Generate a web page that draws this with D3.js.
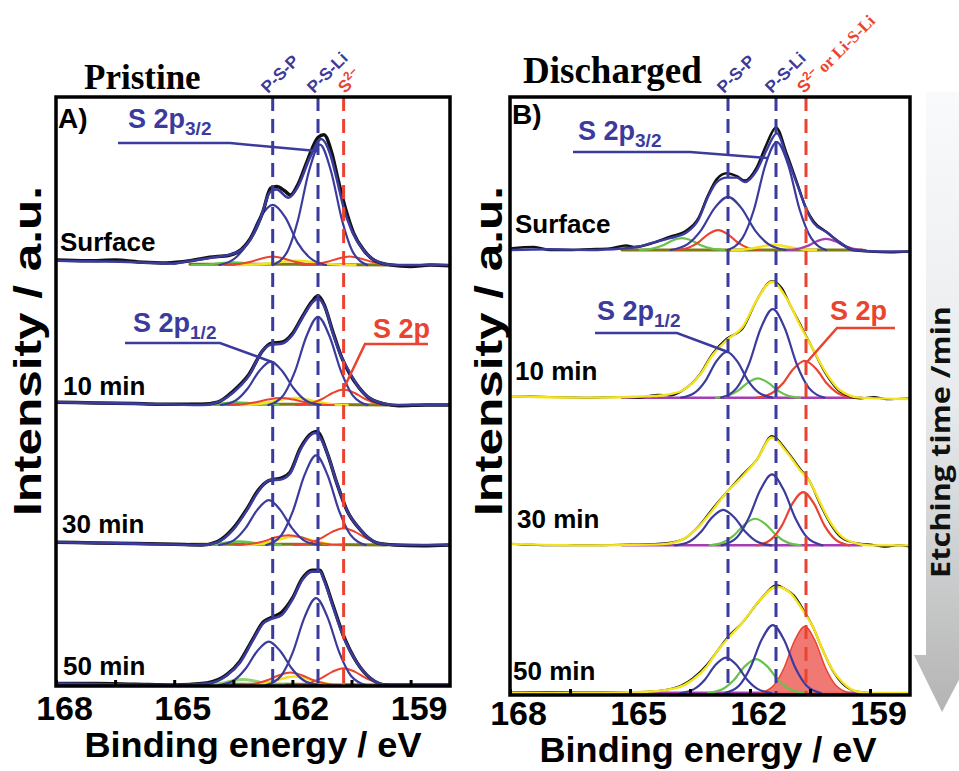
<!DOCTYPE html>
<html>
<head>
<meta charset="utf-8">
<title>S 2p XPS depth profiles</title>
<script src="https://d3js.org/d3.v7.min.js"></script>
<style>
  body { margin: 0; background: #fff; }
  svg text { font-family: "Liberation Sans", Arial, sans-serif; font-weight: bold; }
</style>
</head>
<body>
<div id="chart"></div>
<script>
// ---- axis values / labels
const energyLabels = [168, 165, 162, 159];
const energyMinor = [166.5, 163.5, 160.5];
const depthLabels = ["Surface", "10 min", "30 min", "50 min"];
const refPristine = [162.5, 161.35, 160.7];     // P-S-P, P-S-Li, S2-
const refDischarged = [162.55, 161.35, 160.6];

// ---- Pristine (A), [binding energy, intensity]
const priBackground = [[164.6,0.006],[162,0.006],[159.6,0.0]];

const priSurfData = [[168,0.035],[167.2,0.03],[166.5,0.035],[165.8,0.02],[165.2,0.015],[164.6,0.03],[164.1,0.055],[163.6,0.07],[163.3,0.11],[163.0,0.22],[162.75,0.38],[162.55,0.55],[162.4,0.56],[162.2,0.53],[162.05,0.5],[161.85,0.58],[161.6,0.76],[161.35,0.91],[161.2,0.93],[161.0,0.8],[160.85,0.62],[160.65,0.4],[160.45,0.23],[160.2,0.11],[159.9,0.03],[159.5,0.0],[159.0,-0.01],[158.5,0.0],[158,-0.005]];
const priSurfFit = [[168,0.03],[166,0.02],[165,0.01],[164.8,0.02],[164.1,0.05],[163.4,0.09],[163.07,0.18],[162.8,0.34],[162.57,0.52],[162.4,0.54],[162.1,0.48],[161.86,0.56],[161.55,0.77],[161.27,0.9],[161.05,0.8],[160.87,0.61],[160.7,0.41],[160.5,0.25],[160.23,0.12],[159.95,0.04],[159.45,0.0],[158,0.0]];
const priSurfPSP = [[163.85,0],[163.45,0.05],[163.13,0.16],[162.82,0.34],[162.5,0.43],[162.18,0.34],[161.87,0.16],[161.55,0.05],[161.15,0]];
const priSurfPSLi = [[162.5,0],[162.14,0.09],[161.86,0.32],[161.58,0.67],[161.3,0.86],[161.02,0.67],[160.74,0.32],[160.46,0.09],[160.1,0]];
const priSurfS2 = [[161.75,0],[161.39,0.007],[161.11,0.023],[160.83,0.047],[160.55,0.06],[160.27,0.047],[159.99,0.023],[159.71,0.007],[159.35,0]];
const priSurfRed = [[163.7,0],[163.34,0.007],[163.06,0.023],[162.78,0.047],[162.5,0.06],[162.22,0.047],[161.94,0.023],[161.66,0.007],[161.3,0]];
const priSurfYel = [[163.4,0],[162.95,0.003],[162.6,0.011],[162.25,0.023],[161.9,0.03],[161.55,0.023],[161.2,0.011],[160.85,0.003],[160.4,0]];
const priSurfGrn = [[164.55,0],[164.24,0.002],[163.99,0.008],[163.75,0.016],[163.5,0.02],[163.25,0.016],[163.01,0.008],[162.76,0.002],[162.45,0]];

const pri10Data = [[168,0.02],[167,0.015],[166,0.01],[165,0.005],[164.3,0.005],[163.9,0.02],[163.5,0.1],[163.1,0.22],[162.75,0.39],[162.55,0.44],[162.25,0.45],[162.0,0.51],[161.75,0.63],[161.5,0.74],[161.35,0.78],[161.2,0.72],[160.97,0.52],[160.75,0.34],[160.54,0.22],[160.3,0.12],[160.1,0.06],[159.7,0.01],[159.3,-0.005],[158.6,0.0],[158,0.0]];
const pri10Fit = [[168,0.02],[166,0.01],[164.3,0.0],[163.9,0.02],[163.5,0.09],[163.1,0.21],[162.75,0.39],[162.55,0.43],[162.25,0.44],[162.0,0.5],[161.75,0.62],[161.5,0.73],[161.35,0.76],[161.15,0.68],[160.97,0.51],[160.75,0.34],[160.54,0.23],[160.3,0.12],[160.1,0.06],[159.7,0.01],[159.4,0],[158,0]];
const pri10PSP = [[163.81,0],[163.43,0.034],[163.14,0.116],[162.84,0.243],[162.55,0.31],[162.26,0.243],[161.96,0.116],[161.67,0.034],[161.29,0]];
const pri10PSLi = [[162.61,0],[162.23,0.069],[161.94,0.236],[161.64,0.493],[161.35,0.63],[161.06,0.493],[160.76,0.236],[160.47,0.069],[160.09,0]];
const pri10S2 = [[161.9,0],[161.54,0.012],[161.26,0.041],[160.98,0.086],[160.7,0.11],[160.42,0.086],[160.14,0.041],[159.86,0.012],[159.5,0]];
const pri10Red = [[163.65,0],[163.25,0.006],[162.93,0.019],[162.62,0.039],[162.3,0.05],[161.98,0.039],[161.67,0.019],[161.35,0.006],[160.95,0]];
const pri10Yel = [[163.3,0],[162.9,0.006],[162.58,0.019],[162.27,0.039],[161.95,0.05],[161.63,0.039],[161.32,0.019],[161.0,0.006],[160.6,0]];
const pri10Grn = [[164.45,0],[164.14,0.002],[163.89,0.008],[163.65,0.016],[163.4,0.02],[163.15,0.016],[162.91,0.008],[162.66,0.002],[162.35,0]];

const pri30Data = [[168,0.02],[167,0.015],[166,0.01],[165,0.005],[164.3,0.0],[163.9,0.025],[163.5,0.12],[163.15,0.26],[162.87,0.39],[162.6,0.46],[162.27,0.48],[162.06,0.52],[161.8,0.69],[161.5,0.8],[161.38,0.81],[161.12,0.66],[160.87,0.44],[160.62,0.25],[160.28,0.11],[159.85,0.015],[159.4,0.0],[158.7,-0.005],[158,0.0]];
const pri30Fit = [[168,0.02],[166,0.01],[164.3,0.0],[163.9,0.02],[163.5,0.11],[163.15,0.25],[162.87,0.38],[162.6,0.46],[162.27,0.47],[162.06,0.51],[161.8,0.68],[161.42,0.8],[161.3,0.77],[161.12,0.66],[160.87,0.44],[160.62,0.25],[160.28,0.11],[159.85,0.015],[159.4,0],[158,0]];
const pri30PSP = [[163.86,0],[163.48,0.035],[163.19,0.12],[162.89,0.251],[162.6,0.32],[162.31,0.251],[162.01,0.12],[161.72,0.035],[161.34,0]];
const pri30PSLi = [[162.66,0],[162.28,0.07],[161.99,0.24],[161.69,0.501],[161.4,0.64],[161.11,0.501],[160.81,0.24],[160.52,0.07],[160.14,0]];
const pri30S2 = [[161.96,0],[161.58,0.013],[161.29,0.045],[160.99,0.094],[160.7,0.12],[160.41,0.094],[160.11,0.045],[159.82,0.013],[159.44,0]];
const pri30Red = [[163.45,0],[163.05,0.008],[162.73,0.026],[162.42,0.055],[162.1,0.07],[161.78,0.055],[161.47,0.026],[161.15,0.008],[160.75,0]];
const pri30Yel = [[163.21,0],[162.83,0.007],[162.54,0.023],[162.24,0.047],[161.95,0.06],[161.66,0.047],[161.36,0.023],[161.07,0.007],[160.69,0]];
const pri30Grn = [[164.4,0],[164.09,0.003],[163.84,0.009],[163.6,0.02],[163.35,0.025],[163.1,0.02],[162.86,0.009],[162.61,0.003],[162.3,0]];

const pri50Data = [[168,0.01],[167,0.01],[166,0.005],[165,0.0],[164.17,0.015],[163.66,0.075],[163.33,0.17],[163.0,0.33],[162.74,0.45],[162.55,0.48],[162.27,0.52],[162.0,0.62],[161.75,0.76],[161.5,0.82],[161.3,0.82],[161.2,0.76],[160.97,0.57],[160.7,0.35],[160.36,0.16],[160.03,0.05],[159.6,0.0],[158,0.0]];
const pri50Fit = [[168,0.01],[165,0],[164.17,0.01],[163.66,0.07],[163.33,0.16],[163.0,0.32],[162.74,0.44],[162.55,0.47],[162.27,0.5],[162.0,0.61],[161.75,0.75],[161.5,0.81],[161.3,0.81],[161.2,0.75],[160.97,0.56],[160.7,0.34],[160.36,0.16],[160.03,0.05],[159.6,0],[158,0]];
const pri50PSP = [[163.86,0],[163.48,0.034],[163.19,0.116],[162.89,0.243],[162.6,0.31],[162.31,0.243],[162.01,0.116],[161.72,0.034],[161.34,0]];
const pri50PSLi = [[162.66,0],[162.28,0.068],[161.99,0.233],[161.69,0.485],[161.4,0.62],[161.11,0.485],[160.81,0.233],[160.52,0.068],[160.14,0]];
const pri50S2 = [[161.96,0],[161.58,0.013],[161.29,0.045],[160.99,0.094],[160.7,0.12],[160.41,0.094],[160.11,0.045],[159.82,0.013],[159.44,0]];
const pri50Red = [[163.31,0],[162.93,0.01],[162.64,0.034],[162.34,0.07],[162.05,0.09],[161.76,0.07],[161.46,0.034],[161.17,0.01],[160.79,0]];
const pri50Yel = [[163.21,0],[162.83,0.007],[162.54,0.023],[162.24,0.047],[161.95,0.06],[161.66,0.047],[161.36,0.023],[161.07,0.007],[160.69,0]];
const pri50Grn = [[164.3,0],[163.99,0.004],[163.74,0.015],[163.5,0.031],[163.25,0.04],[163.0,0.031],[162.76,0.015],[162.51,0.004],[162.2,0]];

// ---- Discharged (B)
const disBackground = [[165.2,0.0],[162,0.0],[159.2,0.0]];
const disLowTail = [[168,0.0],[166,0.0],[164.6,0.0]];

const disSurfData = [[168,0.01],[167.4,0.02],[167,0.0],[166.5,0.0],[166,0.005],[165.5,0.01],[165.1,0.03],[164.9,0.02],[164.4,0.05],[164.0,0.09],[163.6,0.13],[163.3,0.21],[163.05,0.37],[162.83,0.48],[162.58,0.52],[162.33,0.5],[162.13,0.47],[161.83,0.56],[161.58,0.72],[161.35,0.83],[161.08,0.65],[160.83,0.46],[160.58,0.27],[160.4,0.19],[160.08,0.12],[159.75,0.05],[159.43,0.0],[159,-0.01],[158.5,-0.015],[158,-0.01]];
const disSurfFit = [[168,0.0],[167,0.005],[166,0.0],[165.2,0.01],[164.83,0.02],[164.43,0.05],[164.0,0.08],[163.58,0.12],[163.3,0.2],[163.05,0.36],[162.83,0.46],[162.58,0.49],[162.33,0.49],[162.13,0.46],[161.83,0.54],[161.58,0.68],[161.33,0.79],[161.08,0.63],[160.83,0.45],[160.58,0.27],[160.4,0.18],[160.08,0.12],[159.75,0.05],[159.43,0.0],[158.8,-0.01],[158,-0.01]];
const disSurfPSP = [[163.99,0],[163.56,0.04],[163.22,0.135],[162.89,0.282],[162.55,0.36],[162.21,0.282],[161.88,0.135],[161.54,0.04],[161.11,0]];
const disSurfPSLi = [[162.56,0],[162.19,0.08],[161.9,0.274],[161.62,0.572],[161.33,0.73],[161.04,0.572],[160.76,0.274],[160.47,0.08],[160.1,0]];
const disSurfRed = [[163.85,0],[163.54,0.015],[163.29,0.051],[163.05,0.106],[162.8,0.135],[162.55,0.106],[162.31,0.051],[162.06,0.015],[161.75,0]];
const disSurfGrn = [[164.75,0],[164.44,0.009],[164.19,0.03],[163.95,0.063],[163.7,0.08],[163.45,0.063],[163.21,0.03],[162.96,0.009],[162.65,0]];
const disSurfYel = [[162.45,0],[162.14,0.004],[161.89,0.013],[161.65,0.027],[161.4,0.035],[161.15,0.027],[160.91,0.013],[160.66,0.004],[160.35,0]];
const disSurfPur = [[161.09,0],[160.79,0.008],[160.56,0.028],[160.33,0.059],[160.1,0.075],[159.87,0.059],[159.64,0.028],[159.41,0.008],[159.11,0]];

const dis10Data = [[168,0.01],[167,0.005],[166,0.0],[165.3,0.005],[164.8,0.0],[164.3,0.02],[164.0,0.015],[163.68,0.05],[163.25,0.16],[162.93,0.3],[162.58,0.4],[162.18,0.47],[161.83,0.66],[161.45,0.79],[161.2,0.74],[161.0,0.63],[160.75,0.5],[160.43,0.33],[160.08,0.15],[159.75,0.04],[159.25,-0.005],[158.9,0.005],[158.6,-0.01],[158,-0.005]];
const dis10Fit = [[168,0.01],[166,0.0],[164.5,0.01],[164.08,0.02],[163.68,0.05],[163.25,0.155],[162.93,0.29],[162.58,0.39],[162.18,0.48],[161.83,0.66],[161.45,0.785],[161.08,0.67],[160.75,0.49],[160.43,0.33],[160.08,0.16],[159.75,0.05],[159.25,0.0],[158,-0.01]];
const dis10PSP = [[163.72,0],[163.38,0.034],[163.11,0.116],[162.85,0.243],[162.58,0.31],[162.31,0.243],[162.05,0.116],[161.78,0.034],[161.44,0]];
const dis10PSLi = [[162.72,0],[162.33,0.066],[162.03,0.225],[161.73,0.47],[161.43,0.6],[161.13,0.47],[160.83,0.225],[160.53,0.066],[160.14,0]];
const dis10Grn = [[162.85,0],[162.54,0.014],[162.29,0.049],[162.05,0.102],[161.8,0.13],[161.55,0.102],[161.31,0.049],[161.06,0.014],[160.75,0]];
const dis10Red = [[161.83,0],[161.47,0.028],[161.19,0.094],[160.91,0.196],[160.63,0.25],[160.35,0.196],[160.07,0.094],[159.79,0.028],[159.43,0]];

const dis30Data = [[168,0.01],[167,0.0],[166,0.0],[165,0.005],[164.3,0.01],[163.68,0.04],[163.25,0.14],[162.93,0.25],[162.58,0.36],[162.25,0.46],[161.83,0.58],[161.45,0.74],[161.08,0.64],[160.75,0.52],[160.5,0.43],[160.25,0.28],[160.0,0.15],[159.75,0.06],[159.43,0.02],[159.0,0.005],[158.6,-0.01],[158.3,0.0],[158,-0.01]];
const dis30Fit = [[168,0.01],[166,0.0],[164.5,0.005],[164.1,0.01],[163.68,0.04],[163.25,0.135],[162.93,0.24],[162.58,0.36],[162.25,0.45],[161.83,0.58],[161.45,0.73],[161.08,0.63],[160.75,0.51],[160.5,0.43],[160.25,0.29],[160.0,0.16],[159.75,0.07],[159.43,0.02],[159.0,0.0],[158,0.0]];
const dis30PSP = [[163.87,0],[163.51,0.026],[163.23,0.09],[162.95,0.188],[162.67,0.24],[162.39,0.188],[162.11,0.09],[161.83,0.026],[161.47,0]];
const dis30PSLi = [[162.71,0],[162.33,0.053],[162.04,0.18],[161.74,0.376],[161.45,0.48],[161.16,0.376],[160.86,0.18],[160.57,0.053],[160.19,0]];
const dis30Grn = [[163.01,0],[162.67,0.02],[162.4,0.068],[162.14,0.141],[161.87,0.18],[161.6,0.141],[161.34,0.068],[161.07,0.02],[160.73,0]];
const dis30Red = [[161.81,0],[161.47,0.04],[161.2,0.135],[160.94,0.282],[160.67,0.36],[160.4,0.282],[160.14,0.135],[159.87,0.04],[159.53,0]];

const dis50Data = [[168,0.0],[167,0.005],[166,0.0],[165,0.005],[164.5,0.01],[163.83,0.04],[163.43,0.1],[163.08,0.19],[162.83,0.28],[162.55,0.38],[162.18,0.48],[161.75,0.63],[161.33,0.73],[161.1,0.7],[160.9,0.66],[160.68,0.57],[160.43,0.45],[160.18,0.29],[159.93,0.15],[159.68,0.06],[159.33,0.01],[159.0,0.0],[158.5,0.0],[158,0.0]];
const dis50Fit = [[168,0.0],[166,0.0],[165,0.005],[164.5,0.01],[163.83,0.035],[163.43,0.09],[163.08,0.18],[162.83,0.28],[162.55,0.37],[162.18,0.48],[161.75,0.63],[161.33,0.72],[161.0,0.68],[160.68,0.56],[160.43,0.45],[160.18,0.29],[159.93,0.155],[159.68,0.07],[159.33,0.01],[159.0,0.0],[158,0.0]];
const dis50PSP = [[163.74,0],[163.4,0.026],[163.13,0.09],[162.87,0.188],[162.6,0.24],[162.33,0.188],[162.07,0.09],[161.8,0.026],[161.46,0]];
const dis50PSLi = [[162.63,0],[162.27,0.051],[161.99,0.172],[161.71,0.36],[161.43,0.46],[161.15,0.36],[160.87,0.172],[160.59,0.051],[160.23,0]];
const dis50Grn = [[163.05,0],[162.69,0.025],[162.41,0.086],[162.13,0.18],[161.85,0.23],[161.57,0.18],[161.29,0.086],[161.01,0.025],[160.65,0]];
const dis50Red = [[161.74,0],[161.41,0.05],[161.15,0.169],[160.89,0.352],[160.63,0.45],[160.37,0.352],[160.11,0.169],[159.85,0.05],[159.52,0]];

// ---- drawing
const BLUE = "#3b3b9d", RED = "#ea4330", YEL = "#f4e31c", GRN = "#68c24a",
      OLV = "#7f7a14", PUR = "#a53db3", BLK = "#111";
const SERIF = "'Liberation Serif', 'Times New Roman', serif";

const svg = d3.select("#chart").append("svg").attr("width", 959).attr("height", 771);
const defs = svg.append("defs");

// gray etching-time arrow on the right
const grad = defs.append("linearGradient").attr("id", "arrowGrad")
  .attr("x1", 0).attr("y1", 0).attr("x2", 0).attr("y2", 1);
grad.append("stop").attr("offset", "0%").attr("stop-color", "#f8fafc");
grad.append("stop").attr("offset", "50%").attr("stop-color", "#e8eaec");
grad.append("stop").attr("offset", "100%").attr("stop-color", "#b4b4b4");
svg.append("path")
  .attr("d", "M926,92 L962,92 L962,655 L972,655 L942,712 L914,655 L926,655 Z")
  .attr("fill", "url(#arrowGrad)");
svg.append("text")
  .attr("transform", "translate(950,442) rotate(-90)")
  .attr("text-anchor", "middle")
  .attr("textLength", 272).attr("lengthAdjust", "spacingAndGlyphs")
  .style("font-family", "'Open Sans', sans-serif")
  .style("font-size", "27px")
  .attr("fill", "#111")
  .text("Etching time /min");

function cv(pts, color, w, fill) { return { pts: pts, color: color, w: w, fill: fill }; }

const panels = [
  {
    key: "A", title: "Pristine", letter: "A)",
    x: d3.scaleLinear().domain([168, 158]).range([56, 450]),
    y: d3.scaleLinear().domain([0, 4]).range([685, 125]),
    frame: [56, 97, 450, 686], tickPad: 10, refs: refPristine,
    spectra: [
      { off: 3, curves: [cv(priBackground, OLV, 3), cv(priSurfGrn, GRN, 2), cv(priSurfYel, YEL, 2.5), cv(priSurfRed, RED, 2), cv(priSurfS2, RED, 2), cv(priSurfPSP, BLUE, 2.2), cv(priSurfPSLi, BLUE, 2.2), cv(priSurfData, BLK, 3.5), cv(priSurfFit, BLUE, 2.6)] },
      { off: 2, curves: [cv(priBackground, OLV, 3), cv(pri10Grn, GRN, 2), cv(pri10Yel, YEL, 2.5), cv(pri10Red, RED, 2), cv(pri10S2, RED, 2), cv(pri10PSP, BLUE, 2.2), cv(pri10PSLi, BLUE, 2.2), cv(pri10Data, BLK, 3.5), cv(pri10Fit, BLUE, 2.6)] },
      { off: 1, curves: [cv(priBackground, OLV, 3), cv(pri30Grn, GRN, 2.5), cv(pri30Yel, YEL, 2.5), cv(pri30Red, RED, 2), cv(pri30S2, RED, 2), cv(pri30PSP, BLUE, 2.2), cv(pri30PSLi, BLUE, 2.2), cv(pri30Data, BLK, 3.5), cv(pri30Fit, BLUE, 2.6)] },
      { off: 0, curves: [cv(priBackground, OLV, 3), cv(pri50Grn, "#8fd47a", 3), cv(pri50Yel, YEL, 2.5), cv(pri50Red, RED, 2), cv(pri50S2, RED, 2), cv(pri50PSP, BLUE, 2.2), cv(pri50PSLi, BLUE, 2.2), cv(pri50Data, BLK, 3.5), cv(pri50Fit, BLUE, 2.6)] }
    ],
    labels: [[60, 251], [63, 395], [62, 533], [63, 675]],
    titlePos: [84, 89], titleSize: 35, letterPos: [58, 128],
    axisTitle: [253, 757], ylab: 41
  },
  {
    key: "B", title: "Discharged", letter: "B)",
    x: d3.scaleLinear().domain([168, 158]).range([510, 910]),
    y: d3.scaleLinear().domain([0, 3]).range([693, 250]),
    frame: [510, 97, 910, 695], tickPad: 6, refs: refDischarged,
    spectra: [
      { off: 3, curves: [cv(disBackground, OLV, 3), cv(disSurfGrn, GRN, 2.2), cv(disSurfRed, RED, 2.2), cv(disSurfYel, YEL, 2.5), cv(disSurfPur, PUR, 2.2), cv(disSurfPSP, BLUE, 2.2), cv(disSurfPSLi, BLUE, 2.2), cv(disSurfData, BLK, 2.5), cv(disSurfFit, BLUE, 2.4)] },
      { off: 2, curves: [cv(disBackground, PUR, 2.5), cv(dis10Grn, GRN, 2.2), cv(dis10Red, RED, 2.2), cv(dis10PSP, BLUE, 2.2), cv(dis10PSLi, BLUE, 2.2), cv(dis10Data, BLK, 2), cv(dis10Fit, YEL, 2.4)] },
      { off: 1, curves: [cv(disBackground, PUR, 2.5), cv(dis30Grn, GRN, 2.2), cv(dis30Red, RED, 2.2), cv(dis30PSP, BLUE, 2.2), cv(dis30PSLi, BLUE, 2.2), cv(dis30Data, BLK, 2), cv(dis30Fit, YEL, 2.4)] },
      { off: 0, curves: [cv(disLowTail, "#b02020", 3.5), cv(disBackground, PUR, 3), cv(dis50Red, RED, 1.5, "#ef6e68"), cv(dis50Grn, GRN, 2.2), cv(dis50PSP, BLUE, 2.2), cv(dis50PSLi, BLUE, 2.2), cv(dis50Data, BLK, 2), cv(dis50Fit, YEL, 2.4)] }
    ],
    labels: [[515, 233], [515, 380], [517, 528], [513, 680]],
    titlePos: [523, 83], titleSize: 37, letterPos: [512, 124],
    axisTitle: [708, 762], ylab: 502
  }
];

panels.forEach(function (p) {
  const clipId = "clip" + p.key;
  defs.append("clipPath").attr("id", clipId).append("rect")
    .attr("x", p.frame[0]).attr("y", p.frame[1])
    .attr("width", p.frame[2] - p.frame[0]).attr("height", p.frame[3] - p.frame[1]);

  const plot = svg.append("g").attr("clip-path", "url(#" + clipId + ")");

  p.spectra.forEach(function (s) {
    const line = d3.line()
      .x(function (d) { return p.x(d[0]); })
      .y(function (d) { return p.y(d[1] + s.off); })
      .curve(d3.curveMonotoneX);
    const area = d3.area()
      .x(function (d) { return p.x(d[0]); })
      .y0(p.y(s.off))
      .y1(function (d) { return p.y(d[1] + s.off); })
      .curve(d3.curveMonotoneX);
    s.curves.forEach(function (c) {
      if (c.fill) {
        plot.append("path").attr("d", area(c.pts)).attr("fill", c.fill).attr("opacity", 0.92);
      }
      plot.append("path").attr("d", line(c.pts))
        .attr("fill", "none").attr("stroke", c.color).attr("stroke-width", c.w)
        .attr("stroke-linejoin", "round").attr("stroke-linecap", "round");
    });
  });

  // dashed reference lines
  p.refs.forEach(function (e, i) {
    svg.append("line")
      .attr("x1", p.x(e)).attr("x2", p.x(e))
      .attr("y1", p.frame[1]).attr("y2", p.frame[3])
      .attr("stroke", i < 2 ? BLUE : RED).attr("stroke-width", 3)
      .attr("stroke-dasharray", "14,8");
  });

  // frame
  svg.append("rect")
    .attr("x", p.frame[0]).attr("y", p.frame[1])
    .attr("width", p.frame[2] - p.frame[0]).attr("height", p.frame[3] - p.frame[1])
    .attr("fill", "none").attr("stroke", "#000").attr("stroke-width", 3.5);

  // bottom axis with inward ticks
  const axis = d3.axisBottom(p.x)
    .tickValues(energyLabels.concat(energyMinor).sort(d3.descending))
    .tickSizeInner(-6).tickSizeOuter(0).tickPadding(p.tickPad)
    .tickFormat(function (d) { return energyLabels.includes(d) ? d : ""; });
  const ag = svg.append("g").attr("transform", "translate(0," + p.frame[3] + ")").call(axis);
  ag.select(".domain").remove();
  ag.selectAll(".tick line").attr("stroke", "#000").attr("stroke-width", 3);
  ag.selectAll(".tick text").attr("x", 8).attr("fill", "#000")
    .style("font-size", "34px").style("font-weight", "bold")
    .style("font-family", "'Liberation Sans', Arial, sans-serif");

  svg.append("text").attr("x", p.axisTitle[0]).attr("y", p.axisTitle[1])
    .attr("text-anchor", "middle").style("font-size", "35px").attr("fill", "#000")
    .attr("textLength", 337).attr("lengthAdjust", "spacingAndGlyphs")
    .text("Binding energy / eV");

  svg.append("text").attr("transform", "translate(" + p.ylab + ",351) rotate(-90)")
    .attr("text-anchor", "middle").style("font-size", "39px").attr("fill", "#000")
    .attr("textLength", 330).attr("lengthAdjust", "spacingAndGlyphs")
    .text("Intensity / a.u.");

  svg.append("text").attr("x", p.titlePos[0]).attr("y", p.titlePos[1])
    .style("font-family", SERIF).style("font-size", p.titleSize + "px")
    .attr("fill", "#000").text(p.title);

  svg.append("text").attr("x", p.letterPos[0]).attr("y", p.letterPos[1])
    .style("font-size", "28px").attr("fill", "#000").text(p.letter);

  depthLabels.forEach(function (t, i) {
    svg.append("text").attr("x", p.labels[i][0]).attr("y", p.labels[i][1])
      .style("font-size", "26px").attr("fill", "#000").text(t);
  });
});

// ---- peak labels with leader lines
function subLabel(x, y, main, sub, color) {
  const t = svg.append("text").attr("x", x).attr("y", y).attr("fill", color).style("font-size", "27px");
  t.append("tspan").text(main);
  if (sub) t.append("tspan").attr("dy", 7).style("font-size", "19px").text(sub);
  return t;
}
function leader(pts, color) {
  svg.append("path").attr("d", d3.line()(pts)).attr("fill", "none")
    .attr("stroke", color).attr("stroke-width", 2.5);
}

subLabel(128, 128, "S 2p", "3/2", BLUE);
leader([[118, 143], [230, 143], [317, 151]], BLUE);
subLabel(133, 332, "S 2p", "1/2", BLUE);
leader([[125, 343], [220, 343], [272, 362]], BLUE);
subLabel(373, 338, "S 2p", null, RED);
leader([[428, 344], [365, 344], [343, 390]], RED);

subLabel(578, 140, "S 2p", "3/2", BLUE);
leader([[573, 152], [690, 152], [767, 158]], BLUE);
subLabel(597, 320, "S 2p", "1/2", BLUE);
leader([[595, 333], [677, 333], [728, 352]], BLUE);
subLabel(830, 320, "S 2p", null, RED);
leader([[895, 328], [837, 328], [807, 362]], RED);

// ---- rotated chemical-state tags above the dashed lines
function tag(x, y, color) {
  return svg.append("text").attr("transform", "translate(" + x + "," + y + ") rotate(-45)")
    .attr("fill", color).style("font-size", "17px");
}
tag(268, 94, BLUE).text("P-S-P");
tag(314, 94, BLUE).text("P-S-Li");
const s2a = tag(345, 94, RED);
s2a.append("tspan").text("S");
s2a.append("tspan").attr("dy", -7).style("font-size", "12px").text("2\u2013");

tag(724, 94, BLUE).text("P-S-P");
tag(772, 94, BLUE).text("P-S-Li");
const s2b = tag(804, 94, RED);
s2b.append("tspan").text("S");
s2b.append("tspan").attr("dy", -7).style("font-size", "12px").text("2\u2013");
s2b.append("tspan").attr("dy", 7).style("font-family", SERIF).style("font-size", "17px").text(" or Li-S-Li");
</script>
</body>
</html>
